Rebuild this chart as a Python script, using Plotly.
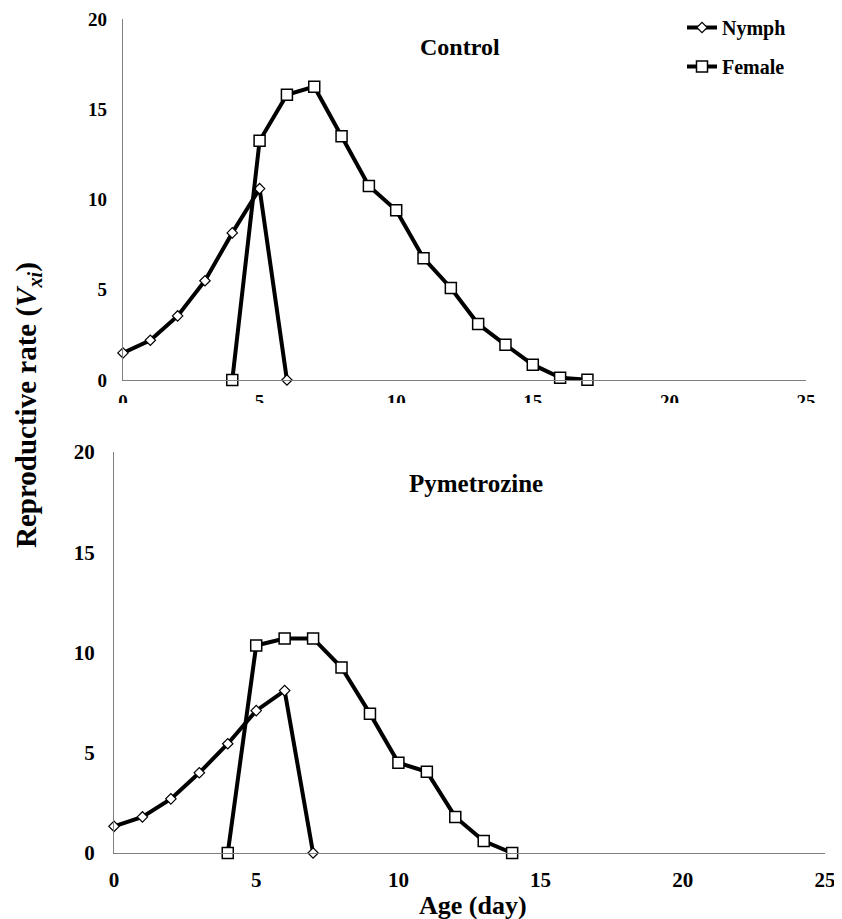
import plotly.graph_objects as go

# ---- data ----
age_nymph_ctrl = [0, 1, 2, 3, 4, 5, 6]
nymph_ctrl = [1.5, 2.2, 3.55, 5.5, 8.15, 10.6, 0]
age_female_ctrl = [4, 5, 6, 7, 8, 9, 10, 11, 12, 13, 14, 15, 16, 17]
female_ctrl = [0, 13.25, 15.8, 16.25, 13.5, 10.75, 9.4, 6.75, 5.1, 3.1, 1.95, 0.85, 0.13, 0.02]

age_nymph_pym = [0, 1, 2, 3, 4, 5, 6, 7]
nymph_pym = [1.33, 1.8, 2.7, 4.0, 5.45, 7.1, 8.1, 0]
age_female_pym = [4, 5, 6, 7, 8, 9, 10, 11, 12, 13, 14]
female_pym = [0, 10.35, 10.7, 10.7, 9.25, 6.95, 4.5, 4.05, 1.8, 0.6, 0]

x_ticks = [0, 5, 10, 15, 20, 25]
y_ticks = [0, 5, 10, 15, 20]

FONT = "Liberation Serif"
OFF = 8                      # page body margin
W, H = 842 - OFF, 919 - OFF  # figure size so it ends at the window edge


def fx(px):
    return (px - OFF) / W


def fy(py):
    return 1 - (py - OFF) / H


fig = go.Figure()


def add_pair(xn, yn, xf, yf, xa, ya, show):
    fig.add_trace(go.Scatter(
        x=xn, y=yn, mode="lines+markers", name="Nymph", xaxis=xa, yaxis=ya,
        line=dict(color="black", width=4),
        marker=dict(symbol="diamond", size=8, color="white",
                    line=dict(color="black", width=1.2)),
        cliponaxis=False, showlegend=show, legendgroup="n"))
    fig.add_trace(go.Scatter(
        x=xf, y=yf, mode="lines+markers", name="Female", xaxis=xa, yaxis=ya,
        line=dict(color="black", width=4),
        marker=dict(symbol="square", size=11, color="white",
                    line=dict(color="black", width=1.5)),
        cliponaxis=False, showlegend=show, legendgroup="f"))


add_pair(age_nymph_ctrl, nymph_ctrl, age_female_ctrl, female_ctrl, "x", "y", True)
add_pair(age_nymph_pym, nymph_pym, age_female_pym, female_pym, "x2", "y2", False)

axis_common = dict(showline=True, linecolor="#7f7f7f", linewidth=1.2,
                   showgrid=False, zeroline=False, ticks="outside",
                   tickcolor="rgba(0,0,0,0)", automargin=False)


def tf(size):
    return dict(family=FONT, size=size, color="black", weight="bold")


fig.update_layout(
    width=W, height=H,
    margin=dict(l=0, r=0, t=0, b=0, pad=0, autoexpand=False),
    paper_bgcolor="white", plot_bgcolor="white",
    font=dict(family=FONT, color="black"),
    xaxis=dict(domain=[fx(123), fx(806)], range=[0, 25], tickvals=x_ticks,
               anchor="y", ticklen=4, tickfont=tf(19), **axis_common),
    yaxis=dict(domain=[fy(380), fy(19)], range=[0, 20], tickvals=y_ticks,
               anchor="x", ticklen=11, tickfont=tf(19), **axis_common),
    xaxis2=dict(domain=[fx(114), fx(825)], range=[0, 25], tickvals=x_ticks,
                anchor="y2", ticklen=8, tickfont=tf(21), **axis_common),
    yaxis2=dict(domain=[fy(853), fy(452)], range=[0, 20], tickvals=y_ticks,
                anchor="x2", ticklen=14, tickfont=tf(21), **axis_common),
    legend=dict(x=fx(682), y=fy(8), xanchor="left", yanchor="top",
                bgcolor="rgba(0,0,0,0)", font=tf(20),
                tracegroupgap=10, itemwidth=30),
    showlegend=True,
)

# white band that hides the lower part of the top panel's x tick labels
fig.add_shape(type="rect", xref="paper", yref="paper",
              x0=fx(85), x1=1, y0=fy(440), y1=fy(403),
              fillcolor="white", line=dict(width=0), layer="above")

fig.add_annotation(text="<b>Control</b>", x=fx(460), y=fy(47), xref="paper", yref="paper",
                   showarrow=False, xanchor="center", yanchor="middle",
                   font=dict(family=FONT, size=24, color="black"))
fig.add_annotation(text="<b>Pymetrozine</b>", x=fx(476), y=fy(483), xref="paper", yref="paper",
                   showarrow=False, xanchor="center", yanchor="middle",
                   font=dict(family=FONT, size=25, color="black"))
fig.add_annotation(text="<b>Age (day)</b>", x=fx(473), y=fy(905), xref="paper", yref="paper",
                   showarrow=False, xanchor="center", yanchor="middle",
                   font=dict(family=FONT, size=26, color="black"))
fig.add_annotation(text="<b>Reproductive rate (<i>V<sub>xi</sub></i>)</b>",
                   x=fx(28), y=fy(405), xref="paper", yref="paper",
                   showarrow=False, xanchor="center", yanchor="middle", textangle=-90,
                   font=dict(family=FONT, size=29, color="black"))

fig.write_html("out.html")
